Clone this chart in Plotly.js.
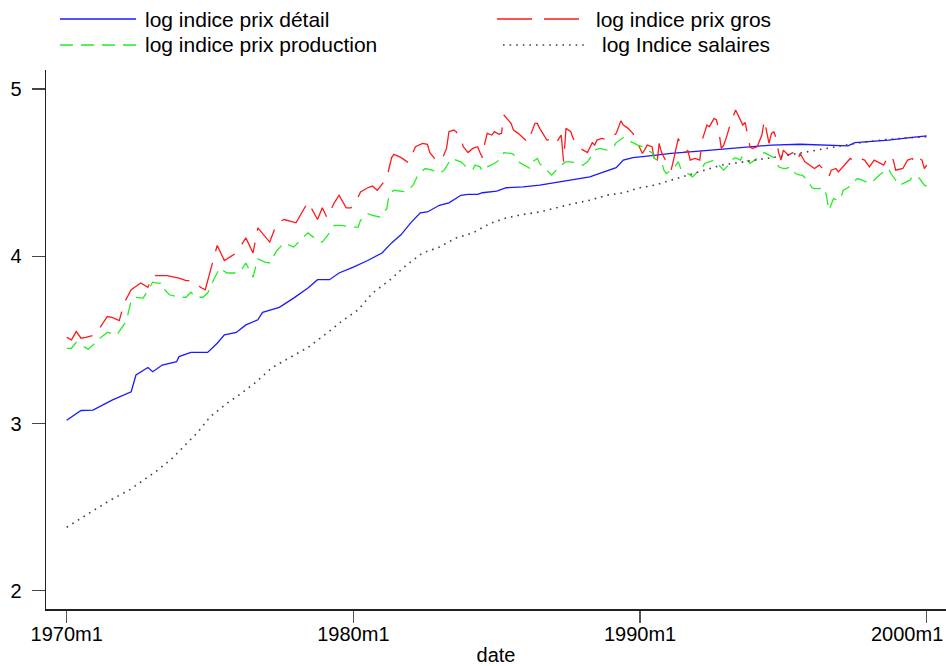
<!DOCTYPE html>
<html>
<head>
<meta charset="utf-8">
<script src="https://cdn.plot.ly/plotly-3.0.1.min.js"></script>
<style>
  html, body { margin: 0; padding: 0; background: #ffffff; }
  #chart { width: 946px; height: 666px; }
</style>
</head>
<body>
<div id="chart"></div>
<script>
// Months are counted from 1970m1 (0) to 2000m1 (360).

// log indice prix détail
const retailMonth = [0,6,11,19,27,29,34,36,40,46,47,52,59,63,66,71,75,80,82,89,95,101,105,110,114,120,126,132,136,140,144,148,151,156,160,165,168,172,174,180,184,191,198,204,212,219,224,230,233,237,244,253,266,278,295,307,316,327,330,344,353,360];
const retailLog   = [3.02,3.078,3.08,3.14,3.19,3.29,3.335,3.31,3.35,3.37,3.40,3.425,3.425,3.48,3.53,3.545,3.59,3.62,3.665,3.695,3.75,3.81,3.86,3.86,3.90,3.935,3.975,4.02,4.08,4.13,4.20,4.26,4.265,4.305,4.32,4.365,4.37,4.37,4.38,4.39,4.41,4.415,4.425,4.44,4.46,4.475,4.50,4.53,4.575,4.59,4.60,4.615,4.63,4.645,4.665,4.67,4.665,4.66,4.68,4.695,4.71,4.72];

// log indice prix gros
const wholesaleMonth = [0,2,4,6,8,12,14,17,19,22,24,27,31,34,36,42,47,50,53,56,58,61,63,66,71,75,78,80,85,88,91,96,101,105,107,109,112,114,117,119,121,123,126,128,130,132,134,136,137,140,143,146,149,151,152,154,155,157,159,160,162,163,165,166,168,170,172,173,174,175,176,178,179,181,182,183,186,187,189,192,193,196,197,198,200,201,204,205,207,208,209,211,212,215,218,220,221,222,224,227,230,232,233,235,237,239,241,243,245,246,247,248,249,251,253,254,256,258,259,260,261,263,265,266,268,269,271,272,273,274,275,276,278,280,281,283,284,286,287,289,291,292,294,295,296,297,298,299,300,302,304,306,307,309,313,315,317,319,320,322,323,325,328,330,332,334,336,338,342,343,345,346,347,350,352,354,355,357,358,359,360];
const wholesaleLog   = [3.515,3.50,3.55,3.51,3.515,3.53,3.575,3.64,3.635,3.615,3.72,3.80,3.84,3.815,3.885,3.885,3.87,3.855,3.855,3.815,3.80,3.96,4.065,3.975,4.02,4.11,4.02,4.17,4.085,4.20,4.22,4.20,4.325,4.22,4.29,4.23,4.32,4.365,4.29,4.29,4.325,4.385,4.41,4.42,4.395,4.43,4.47,4.59,4.61,4.59,4.56,4.655,4.675,4.67,4.62,4.585,4.59,4.575,4.645,4.745,4.755,4.745,4.705,4.655,4.62,4.645,4.655,4.62,4.59,4.675,4.735,4.725,4.745,4.73,4.735,4.845,4.795,4.755,4.735,4.695,4.68,4.795,4.795,4.765,4.715,4.695,4.705,4.68,4.725,4.565,4.765,4.745,4.705,4.645,4.62,4.68,4.665,4.695,4.705,4.695,4.735,4.81,4.785,4.765,4.735,4.675,4.615,4.665,4.655,4.575,4.545,4.675,4.62,4.565,4.515,4.575,4.705,4.635,4.62,4.635,4.575,4.585,4.575,4.695,4.785,4.775,4.825,4.815,4.745,4.645,4.665,4.705,4.80,4.875,4.845,4.785,4.80,4.655,4.645,4.655,4.725,4.815,4.675,4.735,4.745,4.705,4.62,4.575,4.635,4.605,4.62,4.575,4.615,4.565,4.525,4.545,4.515,4.475,4.515,4.525,4.505,4.535,4.585,4.565,4.585,4.575,4.535,4.575,4.545,4.575,4.605,4.575,4.515,4.525,4.575,4.585,4.555,4.585,4.575,4.525,4.545];

// log indice prix production
const producerMonth = [0,2,4,6,9,11,13,17,19,21,23,25,27,29,32,34,36,38,40,41,43,47,50,52,54,57,59,61,64,67,71,73,75,78,80,83,85,88,91,95,99,101,105,107,110,112,115,119,122,123,126,128,131,134,135,137,142,145,147,150,153,156,158,160,161,165,168,170,171,173,174,176,179,181,183,186,187,189,192,194,195,197,198,200,201,203,205,207,209,211,214,216,218,219,221,223,226,229,230,233,234,237,239,241,243,245,246,249,250,251,254,256,257,259,260,262,264,266,267,269,271,273,275,277,278,280,282,283,285,286,288,291,292,294,296,297,298,300,301,303,305,307,308,310,312,313,315,317,318,319,320,321,323,324,325,327,329,331,333,336,338,340,342,344,345,347,348,350,353,354,356,357,359,360];
const producerLog   = [3.45,3.45,3.485,3.47,3.445,3.47,3.50,3.545,3.54,3.53,3.57,3.615,3.735,3.755,3.75,3.80,3.845,3.84,3.84,3.80,3.77,3.755,3.755,3.785,3.755,3.755,3.78,3.845,3.93,3.90,3.90,3.915,3.96,3.875,3.985,3.965,3.96,4.035,4.08,4.055,4.115,4.14,4.095,4.085,4.14,4.185,4.185,4.175,4.175,4.215,4.255,4.245,4.235,4.285,4.375,4.395,4.385,4.425,4.485,4.525,4.515,4.495,4.515,4.565,4.585,4.565,4.525,4.52,4.545,4.535,4.51,4.535,4.555,4.575,4.62,4.615,4.61,4.565,4.54,4.525,4.565,4.585,4.555,4.525,4.515,4.485,4.515,4.545,4.565,4.565,4.555,4.545,4.565,4.585,4.635,4.645,4.635,4.655,4.68,4.71,4.695,4.68,4.665,4.655,4.635,4.62,4.585,4.565,4.515,4.495,4.525,4.565,4.525,4.515,4.495,4.475,4.505,4.525,4.555,4.565,4.575,4.545,4.515,4.545,4.575,4.59,4.575,4.605,4.575,4.555,4.575,4.605,4.62,4.605,4.59,4.575,4.535,4.525,4.525,4.535,4.495,4.485,4.485,4.455,4.41,4.405,4.405,4.41,4.365,4.275,4.315,4.345,4.335,4.345,4.395,4.41,4.44,4.465,4.455,4.435,4.455,4.485,4.505,4.525,4.495,4.455,4.425,4.435,4.455,4.48,4.475,4.465,4.425,4.42];

// log Indice salaires
const wageMonth = [0,10,18,26,31,38,44,49,55,60,67,73,79,86,101,112,114,122,128,135,142,149,156,163,170,177,184,191,198,205,212,219,226,233,240,246,260,274,288,302,316,330,344,358,360];
const wageLog   = [2.38,2.47,2.54,2.60,2.65,2.72,2.79,2.86,2.95,3.04,3.12,3.18,3.245,3.335,3.455,3.575,3.60,3.68,3.78,3.855,3.945,4.02,4.055,4.11,4.14,4.195,4.23,4.25,4.265,4.29,4.315,4.335,4.365,4.38,4.41,4.425,4.485,4.545,4.575,4.605,4.64,4.675,4.70,4.71,4.715];

const tickMonths = [0, 120, 240, 360];
const tickLabels = ['1970m1', '1980m1', '1990m1', '2000m1'];
const yTicks = [2, 3, 4, 5];

const seriesNames = ['log indice prix détail', 'log indice prix gros', 'log indice prix production', 'log Indice salaires'];
const seriesStyles = [
  { color: '#1a1aff', width: 1.3, dash: 'solid' },
  { color: '#ff1a1a', width: 1.3, dash: '35px,12px' },
  { color: '#22ee22', width: 1.3, dash: '13px,8px' },
  { color: '#5e2f5e', width: 1.6, dash: '1.6px,5px' }
];
const seriesX = [retailMonth, wholesaleMonth, producerMonth, wageMonth];
const seriesY = [retailLog, wholesaleLog, producerLog, wageLog];

const traces = seriesNames.map((name, i) => ({
  type: 'scatter',
  mode: 'lines',
  name: name,
  x: seriesX[i],
  y: seriesY[i],
  line: { color: seriesStyles[i].color, width: seriesStyles[i].width, dash: seriesStyles[i].dash },
  hoverinfo: 'skip'
}));

// Legend drawn as line keys plus labels above the plot, two columns.
const W = 900, H = 539, L = 46, T = 70;
const px = v => (v - L) / W;
const py = v => (T + H - v) / H;
const legendRows = [
  { key: [60, 136], text: 143, y: 19, series: 0 },
  { key: [497, 583], text: 594, y: 19, series: 1 },
  { key: [60, 136], text: 143, y: 45, series: 2 },
  { key: [503, 588], text: 600, y: 45, series: 3 }
];
const shapes = legendRows.map(r => ({
  type: 'line', xref: 'paper', yref: 'paper',
  x0: px(r.key[0]), x1: px(r.key[1]), y0: py(r.y), y1: py(r.y),
  line: { color: seriesStyles[r.series].color, width: seriesStyles[r.series].width, dash: seriesStyles[r.series].dash }
}));
const annotations = legendRows.map(r => ({
  xref: 'paper', yref: 'paper', x: px(r.text), y: py(r.y),
  xanchor: 'left', yanchor: 'middle', showarrow: false,
  text: seriesNames[r.series],
  font: { family: 'Liberation Sans, Arial, sans-serif', size: 21, color: '#000000' }
}));

// The last tick label is pushed in against the right edge of the figure.
const lastTick = tickLabels.length - 1;
const tickText = tickLabels.map((t, i) => i === lastTick ? '' : t);
annotations.push({
  xref: 'paper', yref: 'paper', x: 1, y: py(634),
  xanchor: 'right', yanchor: 'middle', xshift: -1, showarrow: false,
  text: tickLabels[lastTick],
  font: { family: 'Liberation Sans, Arial, sans-serif', size: 20, color: '#000000' }
});

const layout = {
  width: 946, height: 666,
  margin: { l: 46, r: 0, t: 70, b: 57 },
  paper_bgcolor: '#ffffff', plot_bgcolor: '#ffffff',
  showlegend: false,
  font: { family: 'Liberation Sans, Arial, sans-serif', size: 20, color: '#000000' },
  xaxis: {
    range: [-8.66, 368.06],
    tickvals: tickMonths, ticktext: tickText,
    ticks: 'outside', ticklen: 12, tickwidth: 1.2, tickcolor: '#555555',
    ticklabelstandoff: -6,
    showline: true, linecolor: '#222222', linewidth: 1.5,
    showgrid: false, zeroline: false,
    title: { text: 'date', standoff: 8, font: { size: 20 } }
  },
  yaxis: {
    range: [1.891, 5.114],
    tickvals: yTicks, ticktext: yTicks.map(String),
    ticks: 'outside', ticklen: 13, tickwidth: 1.2, tickcolor: '#444444',
    ticklabelstandoff: 6,
    showline: true, linecolor: '#222222', linewidth: 1.5,
    showgrid: false, zeroline: false
  },
  shapes: shapes,
  annotations: annotations
};

Plotly.newPlot('chart', traces, layout, { displayModeBar: false, staticPlot: true });
</script>
</body>
</html>
